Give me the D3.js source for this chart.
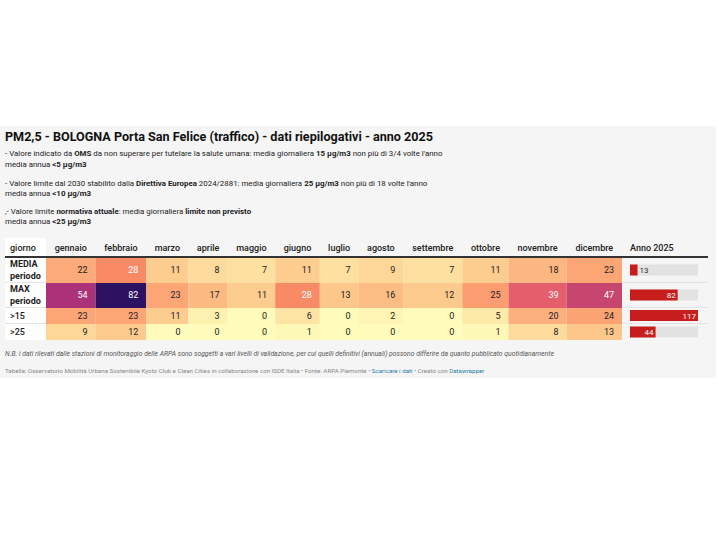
<!DOCTYPE html>
<meta charset="utf-8">
<script src="https://d3js.org/d3.v7.min.js"></script>
<style>
body { margin: 0; background: #fff; }
text { font-family: Roboto, sans-serif; }
</style>
<body>
<div id="chart"></div>
<script>
// data
var months = ['gennaio', 'febbraio', 'marzo', 'aprile', 'maggio', 'giugno', 'luglio', 'agosto', 'settembre', 'ottobre', 'novembre', 'dicembre'];
var rowNames = [['MEDIA', 'periodo'], ['MAX', 'periodo'], ['>15'], ['>25']];
var mediaPeriodo = [22, 28, 11, 8, 7, 11, 7, 9, 7, 11, 18, 23];
var maxPeriodo = [54, 82, 23, 17, 11, 28, 13, 16, 12, 25, 39, 47];
var over15 = [23, 23, 11, 3, 0, 6, 0, 2, 0, 5, 20, 24];
var over25 = [9, 12, 0, 0, 0, 1, 0, 0, 0, 1, 8, 13];
var anno2025 = [13, 82, 117, 44];

var rows = [mediaPeriodo, maxPeriodo, over15, over25];

var W = 720, H = 540;
var svg = d3.select('#chart').append('svg').attr('width', W).attr('height', H);

// panel background
svg.append('rect').attr('x', 0).attr('y', 126).attr('width', 716).attr('height', 252).attr('fill', '#f5f5f5');

// title
svg.append('text')
    .attr('x', 5).attr('y', 141)
    .style('font-size', '12.6px').style('font-weight', 'bold').attr('fill', '#111')
    .text('PM2,5 - BOLOGNA Porta San Felice (traffico) - dati riepilogativi - anno 2025');

// description
var descLines = [
    [['- Valore indicato da ', 0], ['OMS', 1], [' da non superare per tutelare la salute umana: media giornaliera ', 0], ['15 µg/m3', 1], [' non più di 3/4 volte l\'anno', 0]],
    [['media annua ', 0], ['<5 µg/m3', 1]],
    [['- Valore limite dal 2030 stabilito dalla ', 0], ['Direttiva Europea', 1], [' 2024/2881: media giornaliera ', 0], ['25 µg/m3', 1], [' non più di 18 volte l\'anno', 0]],
    [['media annua ', 0], ['<10 µg/m3', 1]],
    [[',- Valore limite ', 0], ['normativa attuale', 1], [': media giornaliera ', 0], ['limite non previsto', 1]],
    [['media annua ', 0], ['<25 µg/m3', 1]]
];
var descY = [156, 166.5, 185.5, 195.5, 214, 224];
descLines.forEach(function(parts, i) {
    var t = svg.append('text').attr('x', 5).attr('y', descY[i])
        .style('font-size', '7.9px').attr('fill', '#222');
    parts.forEach(function(p) {
        t.append('tspan').text(p[0]).style('font-weight', p[1] ? 'bold' : 'normal');
    });
});

// table layout
var tableLeft = 5, labelW = 41, heatLeft = 46, heatRight = 622, tableRight = 708;
var headerY = 250.5, lineY = 257;
var rowTop = [258, 283, 308, 324], rowBottom = [282, 307, 323, 340];
var hdrFont = '9px';

// column widths from header text widths
var tmp = svg.append('g');
var widths = months.map(function(m) {
    var t = tmp.append('text').style('font-size', hdrFont).style('font-weight', 500).text(m);
    return t.node().getComputedTextLength() + 14;
});
tmp.remove();
var total = d3.sum(widths);
var edges = [heatLeft];
widths.forEach(function(w) { edges.push(edges[edges.length - 1] + w / total * (heatRight - heatLeft)); });
var xStart = d3.scaleOrdinal().domain(months).range(edges.slice(0, 12));
var xEnd = d3.scaleOrdinal().domain(months).range(edges.slice(1));

var color = d3.scaleLinear()
    .domain([0, 3, 7, 11, 20, 24, 28, 39, 47, 54, 82])
    .range(['#fffbbb', '#fdf1b0', '#fde0a0', '#fdcd90', '#fcb07d', '#fca374', '#f88a66', '#e45f6b', '#c7466f', '#ab3278', '#2c1260']);

// label column white background
svg.append('rect').attr('x', tableLeft).attr('y', 238).attr('width', labelW).attr('height', lineY - 238).attr('fill', '#fff');
svg.append('rect').attr('x', tableLeft).attr('y', rowTop[0]).attr('width', labelW).attr('height', rowBottom[3] - rowTop[0]).attr('fill', '#fff');

// headers
svg.append('text').attr('x', 10).attr('y', headerY).style('font-size', hdrFont).style('font-weight', 500).attr('fill', '#222').text('giorno');
svg.selectAll('.hdr').data(months).enter().append('text')
    .attr('class', 'hdr')
    .attr('x', function(d) { return (xStart(d) + xEnd(d)) / 2; })
    .attr('y', headerY)
    .attr('text-anchor', 'middle')
    .style('font-size', hdrFont).style('font-weight', 500).attr('fill', '#222')
    .text(function(d) { return d; });
svg.append('text').attr('x', 630).attr('y', headerY).style('font-size', hdrFont).style('font-weight', 500).attr('fill', '#222').text('Anno 2025');

// row separators
for (var r = 0; r < 3; r++) {
    svg.append('line').attr('x1', tableLeft).attr('x2', tableRight)
        .attr('y1', rowBottom[r] + 0.5).attr('y2', rowBottom[r] + 0.5)
        .attr('stroke', '#e3e3e3').attr('stroke-width', 1);
}

// heat cells
rows.forEach(function(vals, r) {
    var g = svg.append('g');
    g.selectAll('rect').data(vals).enter().append('rect')
        .attr('x', function(d, i) { return xStart(months[i]); })
        .attr('y', rowTop[r])
        .attr('width', function(d, i) { return xEnd(months[i]) - xStart(months[i]); })
        .attr('height', rowBottom[r] - rowTop[r] + (r < 3 ? 1 : 0))
        .attr('fill', function(d) { return color(d); });
    g.selectAll('text').data(vals).enter().append('text')
        .attr('x', function(d, i) { return xEnd(months[i]) - 8; })
        .attr('y', (rowTop[r] + rowBottom[r]) / 2 + 3.2)
        .attr('text-anchor', 'end')
        .style('font-size', '9px')
        .attr('fill', function(d) { return d >= 27 ? '#fff' : '#222'; })
        .text(function(d) { return d; });

    // row label
    var lines = rowNames[r];
    var mid = (rowTop[r] + rowBottom[r]) / 2;
    lines.forEach(function(l, k) {
        svg.append('text').attr('x', 10)
            .attr('y', mid + 3.2 + (k - (lines.length - 1) / 2) * 11.5)
            .style('font-size', '9px').style('font-weight', lines.length > 1 ? 'bold' : 500)
            .attr('fill', '#222').text(l);
    });
});

// header line
svg.append('line').attr('x1', tableLeft).attr('x2', tableRight).attr('y1', lineY).attr('y2', lineY)
    .attr('stroke', '#333').attr('stroke-width', 2);

// bars column
var barX = d3.scaleLinear().domain([0, d3.max(anno2025)]).range([630, 698]);
var barG = svg.append('g');
anno2025.forEach(function(v, r) {
    var mid = (rowTop[r] + rowBottom[r]) / 2;
    barG.append('rect').attr('x', barX(0)).attr('y', mid - 5.5).attr('width', barX.range()[1] - barX(0)).attr('height', 11).attr('fill', '#e2e2e2');
    barG.append('rect').attr('x', barX(0)).attr('y', mid - 5.5).attr('width', barX(v) - barX(0)).attr('height', 11).attr('fill', '#c71e1d');
    var inside = barX(v) - barX(0) > 20;
    barG.append('text')
        .attr('x', inside ? barX(v) - 2 : barX(v) + 2)
        .attr('y', mid + 3)
        .attr('text-anchor', inside ? 'end' : 'start')
        .style('font-size', '8px')
        .attr('fill', inside ? '#fff' : '#333')
        .text(v);
});

// notes
svg.append('text').attr('x', 5).attr('y', 356)
    .style('font-size', '6.8px').style('font-style', 'italic').attr('fill', '#555')
    .text('N.B. i dati rilevati dalle stazioni di monitoraggio delle ARPA sono soggetti a vari livelli di validazione, per cui quelli definitivi (annuali) possono differire da quanto pubblicato quotidianamente');

var foot = svg.append('text').attr('x', 5).attr('y', 373).style('font-size', '6.2px').attr('fill', '#888');
[['Tabella: Osservatorio Mobilità Urbana Sostenibile Kyoto Club e Clean Cities in collaborazione con ISDE Italia • Fonte: ARPA Piemonte • ', '#888'],
 ['Scaricare i dati', '#1d81a2'], [' • Creato con ', '#888'], ['Datawrapper', '#1d81a2']].forEach(function(p) {
    foot.append('tspan').text(p[0]).attr('fill', p[1]);
});
</script>
</body>
</html>
